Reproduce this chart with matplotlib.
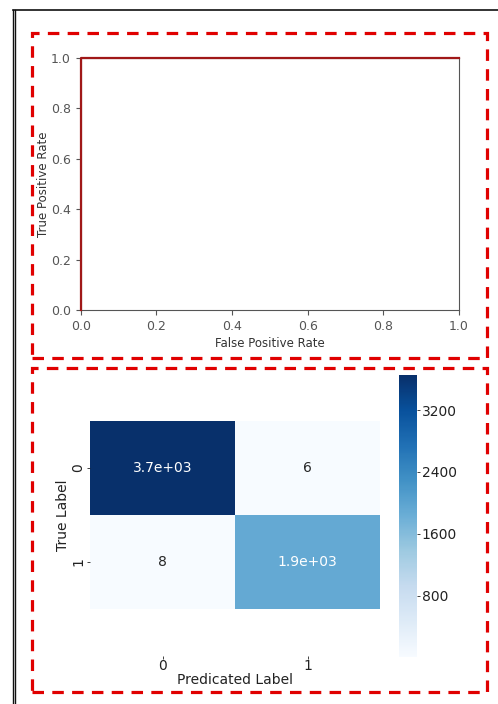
import matplotlib
matplotlib.use('Agg')
import matplotlib.pyplot as plt
import seaborn as sns
import numpy as np
from matplotlib.patches import Rectangle
from matplotlib.lines import Line2D

# ROC curve points
fpr = [0.0, 0.0, 1.0]
tpr = [0.0, 1.0, 1.0]

# confusion matrix (rows: true label, cols: predicted label)
cm = np.array([[3655, 6],
               [8, 1912]])
class_names = ['0', '1']
cbar_ticks = [800, 1600, 2400, 3200]

W, H = 498, 704
fig = plt.figure(figsize=(W / 100, H / 100), dpi=100)


def fx(px):
    return px / W


def fy(py):
    return 1 - py / H


# --- ROC curve ---
grey = '#555555'
ax1 = fig.add_axes([fx(80.7), fy(310), fx(459) - fx(80.7), fy(58) - fy(310)])
ax1.plot(fpr, tpr, color='#a01818', lw=1.6, clip_on=False, zorder=5)
ax1.set_xlim(0, 1)
ax1.set_ylim(0, 1)
ax1.set_xlabel('False Positive Rate', fontsize=8.5, color='#333333', labelpad=3)
ax1.set_ylabel('True Positive Rate', fontsize=8.5, color='#333333', labelpad=1)
ax1.tick_params(labelsize=9, colors=grey, length=3.5)
for s in ax1.spines.values():
    s.set_color(grey)

# --- confusion matrix heatmap ---
ax2 = fig.add_axes([fx(90), fy(656), fx(380) - fx(90), fy(374) - fy(656)])
cax = fig.add_axes([fx(399), fy(657), fx(417) - fx(399), fy(375) - fy(657)])
sns.heatmap(cm, annot=True, cmap='Blues', ax=ax2, cbar_ax=cax,
            xticklabels=class_names, yticklabels=class_names,
            annot_kws={'fontsize': 10})
ax2.set_ylim(2.5, -0.5)
ax2.set_xlabel('Predicated Label', fontsize=10, color='#222222', labelpad=0)
ax2.set_ylabel('True Label', fontsize=10, color='#222222', labelpad=1)
ax2.tick_params(axis='x', labelsize=10, colors='#222222', length=2, width=0.6, pad=0.5)
ax2.tick_params(axis='y', labelsize=10, colors='#222222', length=2, width=0.6, pad=1.5)
cax.set_yticks(cbar_ticks)
cax.tick_params(labelsize=10, colors='#222222', length=2, width=0.6, pad=1.5)
cax.set_frame_on(False)

# --- page frame and dashed boxes ---
frame = '#111111'
fig.add_artist(Line2D([fx(12.5), fx(12.5)], [fy(9.5), 0], transform=fig.transFigure, color=frame, lw=1))
fig.add_artist(Line2D([fx(14.8), fx(14.8)], [fy(9.5), 0], transform=fig.transFigure, color=frame, lw=1))
fig.add_artist(Line2D([fx(12.5), 1], [fy(9.5), fy(9.5)], transform=fig.transFigure, color=frame, lw=1.2))

red = '#e00000'
for top, bot in [(33, 357.5), (368, 692)]:
    fig.add_artist(Rectangle((fx(32), fy(bot)), fx(486.5) - fx(32), fy(top) - fy(bot),
                             transform=fig.transFigure, fill=False, edgecolor=red,
                             lw=2.3, linestyle=(0, (3.6, 2.6))))

fig.savefig('out.png', dpi=100)
